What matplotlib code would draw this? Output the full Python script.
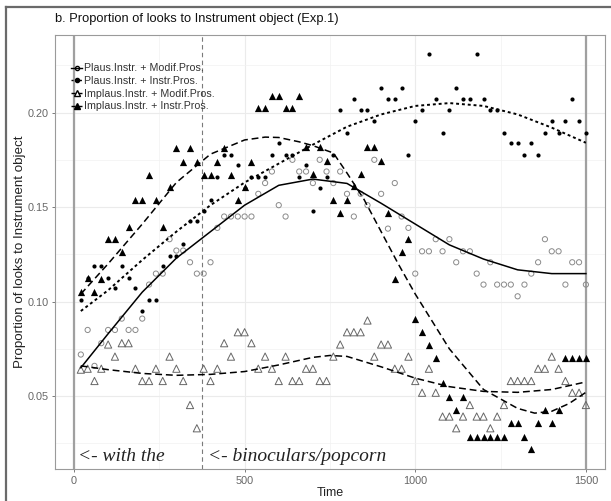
import numpy as np
import matplotlib
matplotlib.use("Agg")
import matplotlib.pyplot as plt
from matplotlib.lines import Line2D

plt.rcParams['font.family'] = ['Liberation Sans', 'DejaVu Sans']

# time bins (ms)
t = np.arange(20, 1501, 20)

# Plaus.Instr. + Modif.Pros. (open circles)
plaus_modif = [0.072, 0.085, 0.066, 0.078, 0.085, 0.085, 0.091, 0.085, 0.085, 0.091,
               0.109, 0.1148, 0.1148, 0.133, 0.127, 0.127, 0.1208, 0.1148, 0.1148, 0.1208,
               0.139, 0.145, 0.145, 0.145, 0.145, 0.145, 0.157, 0.1627, 0.1688, 0.151,
               0.145, 0.175, 0.1688, 0.1688, 0.1627, 0.175, 0.1688, 0.1627, 0.1688, 0.157,
               0.145, 0.157, 0.151, 0.175, 0.157, 0.1386, 0.1627, 0.145, 0.139, 0.1148,
               0.1266, 0.1266, 0.133, 0.1266, 0.133, 0.1208, 0.1266, 0.1266, 0.1148, 0.109,
               0.1208, 0.109, 0.109, 0.109, 0.1028, 0.109, 0.1148, 0.1208, 0.133, 0.1266,
               0.1266, 0.109, 0.1208, 0.1208, 0.109]

# Plaus.Instr. + Instr.Pros. (filled dots)
plaus_instr = [0.101, 0.1125, 0.1187, 0.1187, 0.1125, 0.107, 0.1187, 0.1125, 0.107, 0.0949,
               0.101, 0.101, 0.1187, 0.1243, 0.1243, 0.1305, 0.1424, 0.1424, 0.148, 0.1539,
               0.166, 0.1777, 0.1777, 0.172, 0.160, 0.166, 0.166, 0.166, 0.1777, 0.184,
               0.1777, 0.1777, 0.166, 0.172, 0.148, 0.160, 0.166, 0.1777, 0.2014, 0.1894,
               0.207, 0.2014, 0.2014, 0.1956, 0.2129, 0.207, 0.207, 0.2129, 0.1777, 0.1956,
               0.2014, 0.2308, 0.207, 0.1894, 0.2014, 0.2129, 0.207, 0.207, 0.2308, 0.207,
               0.2014, 0.2014, 0.1894, 0.1838, 0.1838, 0.1777, 0.1838, 0.1777, 0.1894, 0.1956,
               0.1894, 0.1956, 0.207, 0.1956, 0.1894]

# Implaus.Instr. + Modif.Pros. (open triangles)
implaus_modif = [0.064, 0.0645, 0.058, 0.0645, 0.0773, 0.0709, 0.078, 0.078, 0.0645, 0.058,
                 0.058, 0.0645, 0.058, 0.0709, 0.0645, 0.058, 0.0453, 0.033, 0.0645, 0.058,
                 0.0645, 0.078, 0.0709, 0.0838, 0.0838, 0.078, 0.0645, 0.0709, 0.0645, 0.058,
                 0.0709, 0.058, 0.058, 0.0645, 0.0645, 0.058, 0.058, 0.0709, 0.0773, 0.0838,
                 0.0838, 0.0838, 0.090, 0.0709, 0.0773, 0.0773, 0.0645, 0.0645, 0.0709, 0.058,
                 0.0518, 0.0645, 0.0518, 0.0392, 0.0392, 0.033, 0.0392, 0.0453, 0.0392, 0.0392,
                 0.033, 0.0392, 0.0453, 0.058, 0.058, 0.058, 0.058, 0.0645, 0.0645, 0.0709,
                 0.0645, 0.058, 0.0518, 0.0518, 0.0453]

# Implaus.Instr. + Instr.Pros. (filled triangles)
implaus_instr = [0.105, 0.1125, 0.105, 0.112, 0.133, 0.133, 0.126, 0.1395, 0.1535, 0.1535,
                 0.167, 0.1535, 0.1395, 0.1605, 0.181, 0.174, 0.181, 0.174, 0.167, 0.167,
                 0.174, 0.181, 0.167, 0.1535, 0.1605, 0.174, 0.2023, 0.2023, 0.2085, 0.2085,
                 0.2023, 0.2023, 0.2085, 0.1817, 0.1675, 0.1817, 0.1745, 0.1535, 0.147, 0.1535,
                 0.161, 0.1675, 0.1817, 0.1817, 0.1745, 0.147, 0.112, 0.126, 0.133, 0.091,
                 0.084, 0.077, 0.070, 0.0567, 0.0497, 0.0427, 0.0497, 0.0286, 0.0286, 0.0286,
                 0.0286, 0.0286, 0.0286, 0.036, 0.036, 0.0286, 0.0222, 0.036, 0.0427, 0.036,
                 0.0427, 0.070, 0.070, 0.070, 0.070]

# smoothed curves
st1 = [20, 100, 200, 300, 400, 500, 600, 700, 800, 900, 1000, 1100, 1200, 1300, 1400, 1500]
sm_plaus_modif = [0.065, 0.083, 0.105, 0.123, 0.137, 0.151, 0.1615, 0.1648, 0.1625, 0.152,
                  0.141, 0.130, 0.1225, 0.1168, 0.1148, 0.1148]
sm_plaus_instr = [0.095, 0.106, 0.122, 0.137, 0.151, 0.163, 0.173, 0.183, 0.1925, 0.199,
                  0.2035, 0.205, 0.2035, 0.199, 0.192, 0.184]

st3 = [20, 100, 200, 300, 400, 500, 600, 700, 750, 800, 900, 1000, 1100, 1200, 1300, 1400, 1500]
sm_implaus_modif = [0.066, 0.064, 0.062, 0.061, 0.0615, 0.063, 0.0665, 0.0705, 0.0715, 0.071,
                    0.0655, 0.0595, 0.055, 0.0525, 0.052, 0.0535, 0.0575]

st4 = [20, 100, 200, 300, 400, 500, 560, 600, 660, 700, 760, 800, 850, 900, 950, 1000,
       1100, 1200, 1300, 1350, 1400, 1450, 1500]
sm_implaus_instr = [0.104, 0.120, 0.141, 0.163, 0.178, 0.1855, 0.187, 0.1868, 0.1845, 0.1825,
                    0.1786, 0.168, 0.154, 0.137, 0.120, 0.104, 0.075, 0.0535, 0.0435, 0.041,
                    0.042, 0.046, 0.052]

labels = ["Plaus.Instr. + Modif.Pros.", "Plaus.Instr. + Instr.Pros.",
          "Implaus.Instr. + Modif.Pros.", "Implaus.Instr. + Instr.Pros."]

fig = plt.figure(figsize=(6.11, 5.01), dpi=100)
ax = fig.add_axes([0.090, 0.0633, 0.900, 0.8668])

# outer frame (left and top)
fig.add_artist(Line2D([0.0098, 0.0098], [0, 0.986], color='#6a6a6a', lw=1.6,
                      transform=fig.transFigure))
fig.add_artist(Line2D([0.0098, 1.0], [0.986, 0.986], color='#6a6a6a', lw=1.6,
                      transform=fig.transFigure))

ax.set_xlim(-55.7, 1555.7)
ax.set_ylim(0.0113, 0.241)
ax.set_xticks([0, 500, 1000, 1500])
ax.set_yticks([0.05, 0.10, 0.15, 0.20])
ax.set_yticklabels(['0.05', '0.10', '0.15', '0.20'])
ax.set_xticks([250, 750, 1250], minor=True)
ax.set_yticks([0.025, 0.075, 0.125, 0.175, 0.225], minor=True)
ax.grid(which='major', color='#ebebeb', lw=0.8)
ax.grid(which='minor', color='#f2f2f2', lw=0.5)
ax.set_axisbelow(True)
ax.tick_params(which='major', length=2.5, width=0.6, color='#666666',
               labelcolor='#666666', labelsize=7.8, pad=2)
ax.tick_params(which='minor', length=0)
for s in ax.spines.values():
    s.set_color('#9a9a9a')
    s.set_linewidth(0.8)

# reference lines
ax.axvline(0, color='#a0a0a0', lw=1.6, zorder=1)
ax.axvline(1500, color='#a0a0a0', lw=1.6, zorder=1)
ax.axvline(375, color='#7a7a7a', lw=0.8, ls=(0, (4, 3)), zorder=1)

# points
ax.scatter(t, plaus_modif, s=14, facecolors='none', edgecolors='#8a8a8a', linewidths=0.7, zorder=3)
ax.scatter(t, plaus_instr, s=9, color='black', linewidths=0, zorder=3)
ax.scatter(t, implaus_modif, s=27, marker='^', facecolors='none', edgecolors='#666666',
           linewidths=0.7, zorder=3)
ax.scatter(t, implaus_instr, s=27, marker='^', color='black', linewidths=0, zorder=3)

# smooth lines
ax.plot(st1, sm_plaus_modif, color='black', lw=1.1, zorder=4)
ax.plot(st1, sm_plaus_instr, color='black', lw=1.4, ls=(0, (1.5, 1.5)), zorder=4)
ax.plot(st3, sm_implaus_modif, color='black', lw=1.1, ls=(0, (4.5, 2.5)), zorder=4)
ax.plot(st4, sm_implaus_instr, color='black', lw=1.1, ls=(0, (4.5, 2.5)), zorder=4)

handles = [
    Line2D([], [], color='black', lw=1.0, marker='o', ms=3, mfc='none'),
    Line2D([], [], color='black', lw=1.0, ls=(0, (1.5, 1.5)), marker='o', ms=3),
    Line2D([], [], color='black', lw=1.0, ls=(0, (3, 2)), marker='^', ms=4, mfc='none'),
    Line2D([], [], color='black', lw=1.0, ls=(0, (3, 2)), marker='^', ms=4),
]
leg = ax.legend(handles, labels, loc='upper left', bbox_to_anchor=(0.030, 0.935),
                frameon=False, fontsize=7.7, handlelength=1.0, handletextpad=0.15,
                labelspacing=0.25, borderpad=0, borderaxespad=0)
for txt in leg.get_texts():
    txt.set_color('#333333')

# annotations
ax.text(12, 0.0157, "<- with the", family='Liberation Serif', style='italic',
        fontsize=14, color='#222222', va='baseline', ha='left')
ax.text(392, 0.0157, "<- binoculars/popcorn", family='Liberation Serif', style='italic',
        fontsize=14, color='#222222', va='baseline', ha='left')

ax.set_xlabel("Time", fontsize=9, color='#222222', labelpad=1)
ax.set_ylabel("Proportion of looks to Instrument object", fontsize=9.6, color='#222222',
              labelpad=1)
fig.text(0.090, 0.962, "b. Proportion of looks to Instrument object (Exp.1)", fontsize=9.3,
         color='#111111', ha='left', va='center')

fig.savefig("out.png", dpi=100)
